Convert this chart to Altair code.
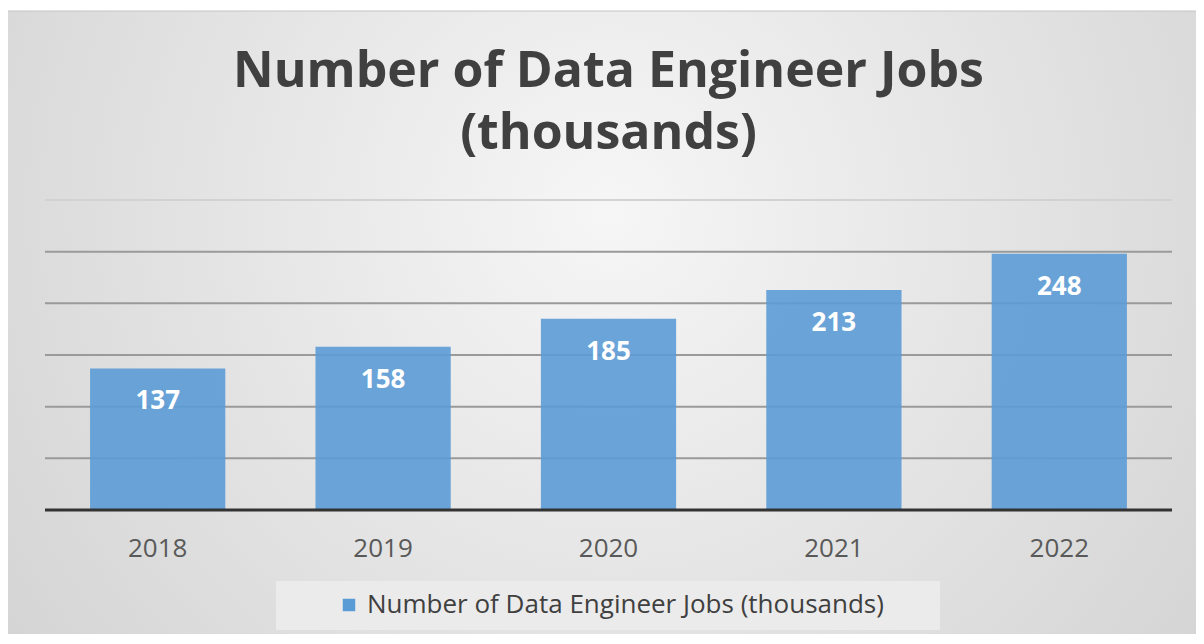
import altair as alt
import pandas as pd

YEARS = ["2018", "2019", "2020", "2021", "2022"]
JOBS = [137, 158, 185, 213, 248]
GRID_VALUES = [50, 100, 150, 200, 250, 300]
SERIES = "Number of Data Engineer Jobs (thousands)"
TITLE_LINES = ["Number of Data Engineer Jobs", "(thousands)"]

FONT = "Open Sans"
W, H = 1127, 310

bars_df = pd.DataFrame({"year": YEARS, "jobs": JOBS, "series": [SERIES] * len(YEARS)})
grid_df = pd.DataFrame({"v": GRID_VALUES})
one = pd.DataFrame({"k": [0]})

x_enc = alt.X("year:N", sort=YEARS, title=None,
              scale=alt.Scale(paddingInner=0.4, paddingOuter=0.2),
              axis=alt.Axis(labelAngle=0, labelFontSize=26, labelColor="#595959",
                            labelFont=FONT, labelPadding=25, ticks=False,
                            domain=False, zindex=1))
y_scale = alt.Scale(domain=[0, 300])

bg = alt.Chart(one).mark_rect(
    color=alt.Gradient(gradient="radial", x1=0.5, y1=0.4, x2=0.5, y2=0.4, r1=0, r2=0.75,
                       stops=[alt.GradientStop(color="#f6f6f6", offset=0),
                              alt.GradientStop(color="#cdcdcd", offset=1)]),
    stroke="#c4c4c4", strokeWidth=1,
).encode(x=alt.value(-38), x2=alt.value(W + 40), y=alt.value(-189), y2=alt.value(H + 140))

legend_box = alt.Chart(one).mark_rect(color="#ebebeb").encode(
    x=alt.value(231), x2=alt.value(895), y=alt.value(381), y2=alt.value(430))

grid = alt.Chart(grid_df).mark_rule(strokeWidth=2).encode(
    y=alt.Y("v:Q", scale=y_scale, axis=None),
    color=alt.condition(alt.datum.v == 300, alt.value("#d2d2d2"), alt.value("#9a9a9a")),
)

bars = alt.Chart(bars_df).mark_bar(opacity=0.9).encode(
    x=x_enc,
    y=alt.Y("jobs:Q", scale=y_scale, axis=None),
    color=alt.Color("series:N", scale=alt.Scale(range=["#5b9bd5"]), title=None,
                    legend=alt.Legend(orient="none", legendX=291, legendY=392,
                                      symbolType="square", symbolSize=156,
                                      symbolOpacity=1, symbolStrokeWidth=0,
                                      labelFontSize=26, labelFont=FONT,
                                      labelColor="#404040", labelOffset=5,
                                      labelLimit=900, padding=0)),
)

baseline = alt.Chart(one).mark_rule(color="#333333", strokeWidth=3).encode(
    y=alt.value(H), x=alt.value(0), x2=alt.value(W))

labels = alt.Chart(bars_df).mark_text(
    font=FONT, fontSize=26, fontWeight="bold", color="#ffffff",
    baseline="middle", dy=33,
).encode(x=alt.X("year:N", sort=YEARS), y=alt.Y("jobs:Q", scale=y_scale), text=alt.Text("jobs:Q"))

title = alt.Chart(one).mark_text(
    text=TITLE_LINES, font=FONT, fontSize=50, fontWeight="bold", color="#404040",
    align="center", baseline="alphabetic", lineHeight=62,
).encode(x=alt.value(W / 2), y=alt.value(-113))

chart = alt.layer(bg, legend_box, grid, bars, baseline, labels, title).properties(
    width=W, height=H,
    autosize=alt.AutoSizeParams(type="none"),
    padding={"left": 37, "top": 192, "right": 24, "bottom": 124},
    background="white",
).configure_view(stroke=None)

chart.save("out.html", embed_options={"renderer": "svg", "actions": False})
